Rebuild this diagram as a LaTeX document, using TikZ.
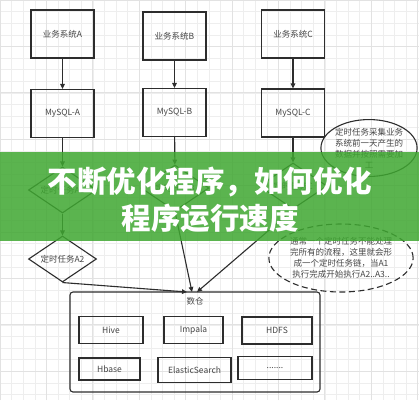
\documentclass[tikz,border=0pt]{standalone}
\usepackage{fontspec}
\setmainfont{Noto Sans CJK SC}
\usepackage{tikz}
\usetikzlibrary{shapes.geometric,arrows.meta}
\definecolor{gridminor}{RGB}{238,238,238}
\definecolor{gridmajor}{RGB}{226,226,226}
\definecolor{linegray}{RGB}{45,45,45}
\definecolor{txtgray}{RGB}{70,70,70}
\definecolor{bannergreen}{RGB}{63,167,49}

\begin{document}
\begin{tikzpicture}[x=1pt,y=-1pt,
    line/.style={draw=linegray,line width=1.1pt},
    flow/.style={line,-{Triangle[length=5pt,width=4.5pt]}},
    box/.style={line,rectangle,inner sep=0pt,text=txtgray,font=\fontsize{8.5}{10}\selectfont},
    sysbox/.style={box,minimum width=63pt,minimum height=48pt},
    task/.style={box,diamond,aspect=1.5,minimum width=68pt,minimum height=46pt},
    note/.style={line,ellipse,inner sep=0pt,text=txtgray,align=center,font=\fontsize{8.5}{11}\selectfont}]
    % Background grid
    \useasboundingbox (0,0) rectangle (419,400);
    \fill[white](0,0)rectangle(419,400);
    \draw[gridminor,line width=0.6pt](0,0)grid[step=11.6pt](419,400);
    \draw[gridmajor,line width=0.8pt](0,0)grid[step=46.4pt](419,400);
    % Business systems
    \node[sysbox] (bizA) at (62.5,34) {业务系统A};
    \node[sysbox] (bizB) at (174.5,36) {业务系统B};
    \node[sysbox] (bizC) at (293,34) {业务系统C};
    % Databases
    \node[sysbox] (sqlA) at (62.5,113.5) {MySQL-A};
    \node[sysbox] (sqlB) at (174.5,112.5) {MySQL-B};
    \node[sysbox] (sqlC) at (293,113) {MySQL-C};
    % Scheduled tasks
    \node[task] (taskA1) at (62.5,190) {定时任务A1};
    \node[task] (taskA2) at (62.5,259) {定时任务A2};
    \node[task] (taskB) at (175,188) {定时任务B};
    \node[task] (taskC) at (293,186) {定时任务C};
    % Notes
    \node[note,minimum width=82pt,minimum height=50pt] (collectnote) at (369,148)
        {定时任务采集业务\\系统前一天产生的\\数据并按照需要加\\工};
    \node[note,dashed,dash pattern=on 6pt off 3.5pt,minimum width=132pt,minimum height=68pt] (chainnote) at (341,258)
        {通常一个定时任务不能处理\\完所有的流程，这里就会形\\成一个定时任务链，当A1\\执行完成开始执行A2..A3..};
    % Data warehouse
    \node[box,rounded corners=3pt,minimum width=250pt,minimum height=100pt] (warehouse) at (195,342) {};
    \node[text=txtgray,font=\fontsize{8.5}{10}\selectfont] (whlabel) at (195,301) {数仓};
    \node[box,minimum width=64pt,minimum height=27pt] (hive) at (111,330) {Hive};
    \node[box,minimum width=59pt,minimum height=27pt] (impala) at (193.5,330) {Impala};
    \node[box,minimum width=70pt,minimum height=27pt] (hdfs) at (277,330.5) {HDFS};
    \node[box,minimum width=61pt,minimum height=22pt] (hbase) at (109.5,369) {Hbase};
    \node[box,minimum width=73pt,minimum height=25pt] (elastic) at (194.5,370) {ElasticSearch};
    \node[box,minimum width=74pt,minimum height=23pt] (others) at (275,368) {.......};
    \coordinate (inA) at (187,292);
    \coordinate (inB) at (192,292);
    \coordinate (inC) at (197,292);
    % Connectors
    \draw[flow](bizA)--(sqlA);
    \draw[flow](bizB)--(sqlB);
    \draw[flow](bizC)--(sqlC);
    \draw[flow](sqlA)--(taskA1);
    \draw[flow](sqlB)--(taskB);
    \draw[flow](sqlC)--(taskC);
    \draw[flow](taskA1)--(taskA2);
    \draw[flow](taskA2.south)--(inA);
    \draw[flow](taskB.south)--(inB);
    \draw[flow](taskC.south)--(inC);
    % Title banner
    \fill[bannergreen,opacity=0.85](0,152)rectangle(419,241);
    \node[text=white,align=center,font=\fontsize{29.5}{37}\selectfont\bfseries] (title) at (210,199.5)
        {不断优化程序，如何优化\\程序运行速度};
\end{tikzpicture}
\end{document}
